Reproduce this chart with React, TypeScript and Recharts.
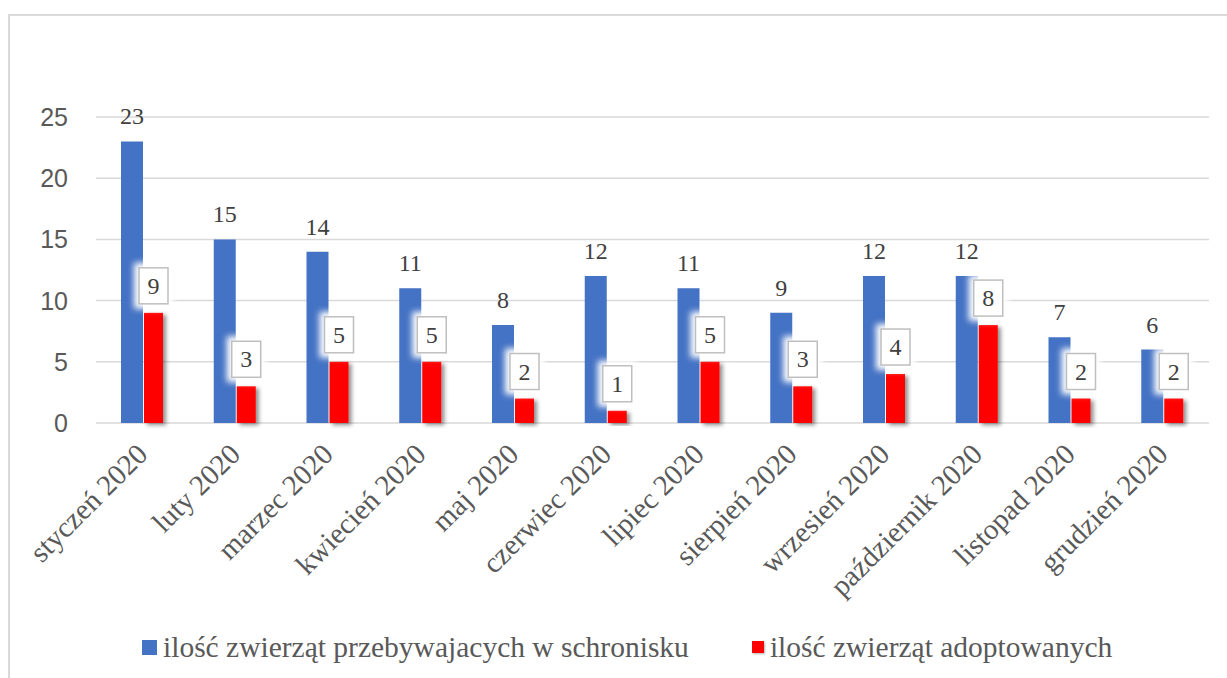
import React from "react";
import { BarChart, Bar, XAxis, YAxis, CartesianGrid, LabelList } from "recharts";

const categories = [
  "styczeń 2020",
  "luty 2020",
  "marzec 2020",
  "kwiecień 2020",
  "maj 2020",
  "czerwiec 2020",
  "lipiec 2020",
  "sierpień 2020",
  "wrzesień 2020",
  "październik 2020",
  "listopad 2020",
  "grudzień 2020",
];
const shelterValues = [23, 15, 14, 11, 8, 12, 11, 9, 12, 12, 7, 6];
const adoptedValues = [9, 3, 5, 5, 2, 1, 5, 3, 4, 8, 2, 2];
const yTicks = [0, 5, 10, 15, 20, 25];
const seriesNames = [
  "ilość zwierząt przebywajacych w schronisku",
  "ilość zwierząt adoptowanych",
];

const data = categories.map((c, i) => ({
  name: c,
  shelter: shelterValues[i],
  adopted: adoptedValues[i],
}));

const BLUE = "#4472C4";
const RED = "#FF0000";
const SERIF = "'Liberation Serif', 'Times New Roman', serif";
const SANS = "'Liberation Sans', Arial, sans-serif";

const YTick = (props: any) => {
  const { y, payload } = props;
  return (
    <text x={68} y={y} textAnchor="end" dominantBaseline="central" fill="#595959" fontSize={25} fontFamily={SANS}>
      {payload.value}
    </text>
  );
};

const XTick = (props: any) => {
  const { x, payload } = props;
  const ax = x + 7;
  const ay = 456;
  return (
    <text
      x={ax}
      y={ay}
      textAnchor="end"
      fill="#595959"
      fontSize={29}
      fontFamily={SERIF}
      transform={`rotate(-45 ${ax} ${ay})`}
    >
      {payload.value}
    </text>
  );
};

const BlueLabel = (props: any) => {
  const { x, y, width, value } = props;
  return (
    <text x={x + width / 2} y={y - 17} textAnchor="middle" fill="#404040" fontSize={24} fontFamily={SERIF}>
      {value}
    </text>
  );
};

const RedLabel = (props: any) => {
  const { x, y, width, value } = props;
  const cx = x + width / 2;
  const bw = 29;
  const bh = 36;
  const bottom = y - 9;
  return (
    <g>
      <rect x={cx - bw / 2 - 5} y={bottom - bh - 5} width={bw + 10} height={bh + 10} fill="#ffffff" filter="url(#glow)" />
      <rect x={cx - bw / 2} y={bottom - bh} width={bw} height={bh} fill="#ffffff" stroke="#BFBFBF" strokeWidth={1.5} />
      <text x={cx} y={bottom - bh / 2} textAnchor="middle" dominantBaseline="central" fill="#404040" fontSize={24} fontFamily={SERIF}>
        {value}
      </text>
    </g>
  );
};

const ShadowBar = (props: any) => {
  const { x, y, width, height, fill } = props;
  return <rect x={x} y={y} width={width} height={height} fill={fill} filter="url(#shadow)" />;
};

export default function App() {
  return (
    <div style={{ position: "fixed", left: 0, top: 0, width: 1227, height: 678, background: "#fff", overflow: "hidden" }}>
      <div
        style={{
          position: "absolute",
          left: 8,
          top: 14,
          width: 1240,
          height: 700,
          borderTop: "2px solid #D9D9D9",
          borderLeft: "2px solid #D9D9D9",
          boxSizing: "border-box",
        }}
      />
      <div style={{ position: "absolute", left: 0, top: 0 }}>
        <BarChart
          width={1227}
          height={678}
          data={data}
          margin={{ top: 117, right: 18, left: 0, bottom: 0 }}
          barGap={1}
          barCategoryGap="27%"
        >
          <defs>
            <filter id="shadow" x="-50%" y="-10%" width="200%" height="130%">
              <feDropShadow dx={3} dy={2} stdDeviation={2} floodColor="#000" floodOpacity={0.45} />
            </filter>
            <filter id="glow" x="-50%" y="-50%" width="200%" height="200%">
              <feGaussianBlur stdDeviation={3} />
            </filter>
          </defs>
          <CartesianGrid horizontal vertical={false} stroke="#D9D9D9" strokeWidth={1.5} />
          <XAxis dataKey="name" interval={0} axisLine={false} tickLine={false} height={255} tick={<XTick />} />
          <YAxis
            width={96}
            domain={[0, 25]}
            ticks={yTicks}
            axisLine={false}
            tickLine={false}
            tick={<YTick />}
            interval={0}
          />
          <Bar dataKey="shelter" fill={BLUE} barSize={22} isAnimationActive={false}>
            <LabelList dataKey="shelter" content={<BlueLabel />} />
          </Bar>
          <Bar dataKey="adopted" fill={RED} barSize={19} isAnimationActive={false} shape={<ShadowBar />}>
            <LabelList dataKey="adopted" content={<RedLabel />} />
          </Bar>
        </BarChart>
      </div>
      <div
        style={{
          position: "absolute",
          left: 142,
          top: 632,
          height: 30,
          lineHeight: "30px",
          display: "flex",
          alignItems: "center",
          fontFamily: SERIF,
          fontSize: 29.5,
          color: "#595959",
          whiteSpace: "nowrap",
        }}
      >
        <span style={{ display: "inline-block", width: 15, height: 15, background: BLUE, marginRight: 6 }} />
        <span>{seriesNames[0]}</span>
        <span
          style={{
            display: "inline-block",
            width: 12,
            height: 12,
            background: RED,
            marginLeft: 63,
            marginRight: 6,
            boxShadow: "1px 1px 2px rgba(0,0,0,0.3)",
          }}
        />
        <span>{seriesNames[1]}</span>
      </div>
    </div>
  );
}
